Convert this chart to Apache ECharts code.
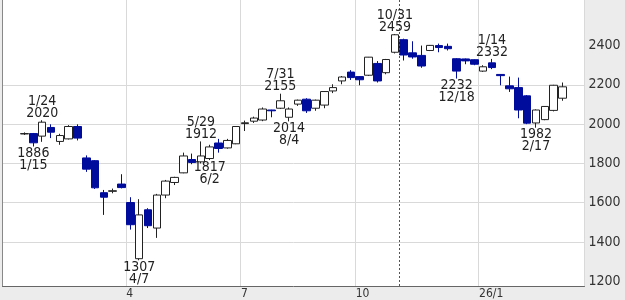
<!DOCTYPE html>
<html>
<head>
<meta charset="utf-8">
<script src="https://cdn.jsdelivr.net/npm/echarts@6/dist/echarts.min.js"></script>
<style>
html,body{margin:0;padding:0;background:#ececec;}
#chart{width:625px;height:300px;}
</style>
</head>
<body>
<div id="chart"></div>
<script>
// Weekly categories (week starting Monday); first two and last two are empty padding weeks
const weeks = [
 '2024-12-23','2024-12-30',
 '2025-01-06','2025-01-13','2025-01-20','2025-01-27','2025-02-03','2025-02-10','2025-02-17','2025-02-24',
 '2025-03-03','2025-03-10','2025-03-17','2025-03-24','2025-03-31','2025-04-07','2025-04-14','2025-04-21',
 '2025-04-28','2025-05-05','2025-05-12','2025-05-19','2025-05-26','2025-06-02','2025-06-09','2025-06-16',
 '2025-06-23','2025-06-30','2025-07-07','2025-07-14','2025-07-21','2025-07-28','2025-08-04','2025-08-11',
 '2025-08-18','2025-08-25','2025-09-01','2025-09-08','2025-09-15','2025-09-22','2025-09-29','2025-10-06',
 '2025-10-13','2025-10-20','2025-10-27','2025-11-03','2025-11-10','2025-11-17','2025-11-24','2025-12-01',
 '2025-12-08','2025-12-15','2025-12-22','2025-12-29','2026-01-05','2026-01-12','2026-01-19','2026-01-26',
 '2026-02-02','2026-02-09','2026-02-16','2026-02-23','2026-03-02','2026-03-09',
 '2026-03-16','2026-03-23'
];
const openV = [null,null,
 1950,1952,1939,1983,1912,1925,1988,1828,
 1814,1651,1658,1695,1601,1315,1564,1471,
 1639,1703,1752,1820,1808,1825,1904,1879,
 1900,2003,2015,2021,2072,2081,2035,2102,
 2127,2081,2097,2169,2220,2265,2242,2249,
 2309,2262,2366,2430,2363,2350,2375,2400,
 2396,2333,2332,2328,2270,2312,2253,2195,
 2186,2144,2006,2023,2070,2132,
 null,null];
const closeV = [null,null,
 1952,1905,2010,1959,1942,1988,1929,1771,
 1676,1628,1661,1677,1488,1538,1483,1639,
 1710,1729,1838,1805,1838,1884,1876,1917,
 1988,2007,2031,2077,2068,2119,2077,2122,
 2068,2122,2166,2186,2240,2237,2226,2341,
 2220,2329,2455,2352,2342,2296,2401,2390,
 2384,2270,2322,2305,2292,2288,2247,2180,
 2072,2005,2072,2090,2198,2190,
 null,null];
const lowV = [null,null,
 1945,1886,1910,1929,1895,1922,1917,1757,
 1670,1538,1648,1673,1463,1307,1471,1421,
 1623,1690,1750,1796,1800,1817,1855,1875,
 1898,1965,2006,2015,2035,2077,2014,2093,
 2057,2068,2081,2158,2203,2225,2198,2245,
 2212,2254,2360,2324,2333,2287,2372,2366,
 2375,2232,2305,2300,2266,2280,2198,2164,
 2030,2000,1982,2020,2065,2119,
 null,null];
const highV = [null,null,
 1958,1955,2020,1999,1951,1995,1999,1841,
 1817,1665,1672,1745,1628,1618,1572,1645,
 1716,1732,1855,1850,1912,1895,1925,1925,
 1990,2018,2038,2085,2073,2155,2085,2125,
 2132,2125,2168,2203,2245,2275,2245,2342,
 2321,2332,2459,2435,2422,2400,2403,2410,
 2410,2336,2334,2330,2300,2332,2254,2242,
 2237,2148,2075,2092,2200,2212,
 null,null];

// Y axis ticks and extent
const yTicks = [1200,1400,1600,1800,2000,2200,2400];
const yMin = 1176, yMax = 2632;

// X axis month labels (week where label is placed)
const xTickWeeks = ['2025-03-31','2025-06-30','2025-09-29','2026-01-05'];
const xTickLabels = ['4','7','10','26/1'];

// Annotations
const highNotes = [
 {week:'2025-01-20', date:'1/24', value:2020},
 {week:'2025-05-26', date:'5/29', value:1912},
 {week:'2025-07-28', date:'7/31', value:2155},
 {week:'2025-10-27', date:'10/31', value:2459},
 {week:'2026-01-12', date:'1/14', value:2332}
];
const lowNotes = [
 {week:'2025-01-13', date:'1/15', value:1886},
 {week:'2025-04-07', date:'4/7', value:1307},
 {week:'2025-06-02', date:'6/2', value:1817},
 {week:'2025-08-04', date:'8/4', value:2014},
 {week:'2025-12-15', date:'12/18', value:2232},
 {week:'2026-02-16', date:'2/17', value:1982}
];
// dotted divider placed at the start of this week
const dividerWeek = '2025-11-03';

const FONT = '"Liberation Sans Narrow","DejaVu Sans Condensed",sans-serif';
const UP = '#ffffff', UPB = '#222222', DN = '#000c9c';

const ohlc = weeks.map((w,i)=> openV[i]==null ? '-' : [openV[i], closeV[i], lowV[i], highV[i]]);
const tickIdx = new Set(xTickWeeks.map(w=>weeks.indexOf(w)));
const tickMap = {}; xTickWeeks.forEach((w,i)=>tickMap[w]=xTickLabels[i]);

const noteLabel = (pos) => ({
  show:true, position:pos, distance:1, color:'#222',
  fontFamily:FONT, fontSize:14, lineHeight:12, align:'center'
});
const markData = [
  ...highNotes.map(n=>({coord:[n.week,n.value], value:n.value,
     label:Object.assign(noteLabel('top'),{formatter: n.date+'\n'+n.value})})),
  ...lowNotes.map(n=>({coord:[n.week,n.value], value:n.value,
     label:Object.assign(noteLabel('bottom'),{formatter: n.value+'\n'+n.date})}))
];

const chart = echarts.init(document.getElementById('chart'), null, {renderer:'canvas'});
chart.setOption({
  animation:false,
  backgroundColor:'#ececec',
  grid:{left:2.5, right:40.5, top:0, bottom:11.5, show:true, backgroundColor:'#ffffff', borderWidth:0},
  xAxis:[{
    type:'category', data:weeks, boundaryGap:true,
    axisLine:{show:true, lineStyle:{color:'#666', width:1}},
    axisTick:{show:false},
    axisLabel:{
      interval:(i)=>tickIdx.has(i), formatter:(v)=>tickMap[v]||'',
      color:'#333', fontFamily:FONT, fontSize:12, margin:2, align:'left', padding:[0,0,0,-4]
    },
    splitLine:{show:true, interval:(i)=>tickIdx.has(i), lineStyle:{color:'#d9d9d9', width:1}}
  },{
    type:'value', min:0, max:weeks.length, show:false
  }],
  yAxis:[{
    type:'value', position:'right', min:yMin, max:yMax, splitNumber:7,
    axisLine:{show:true, lineStyle:{color:'#888'}},
    axisTick:{show:false, customValues:yTicks},
    axisLabel:{customValues:yTicks, color:'#333', fontFamily:FONT, fontSize:14, margin:4,
      formatter:(v)=> yTicks.indexOf(v)>=0 ? String(v) : ''},
    splitLine:{show:true, showMinLine:false, showMaxLine:false, lineStyle:{color:'#d9d9d9', width:1}}
  },{
    type:'value', position:'left', min:yMin, max:yMax,
    axisLine:{show:true, lineStyle:{color:'#888'}},
    axisTick:{show:false}, axisLabel:{show:false}, splitLine:{show:false}
  }],
  series:[{
    type:'candlestick', data:ohlc, xAxisIndex:0, yAxisIndex:0,
    barWidth:8,
    itemStyle:{color:UP, borderColor:UPB, color0:DN, borderColor0:DN, borderColorDoji:UPB, borderWidth:1},
    markPoint:{symbol:'circle', symbolSize:0, silent:true, itemStyle:{color:'transparent'}, data:markData}
  },{
    type:'line', data:[], xAxisIndex:1, yAxisIndex:0, silent:true,
    markLine:{symbol:'none', silent:true, label:{show:false},
      lineStyle:{type:[2,2], color:'#555', width:1},
      data:[{xAxis: weeks.indexOf(dividerWeek)}]}
  }]
});
</script>
</body>
</html>
